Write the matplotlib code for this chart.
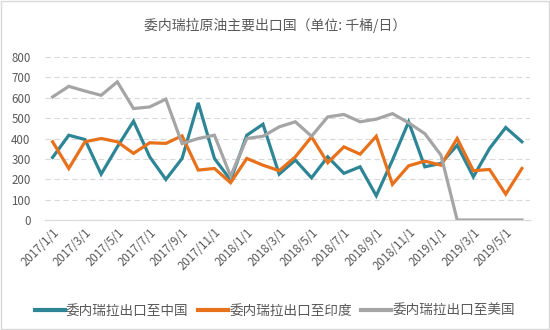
import numpy as np
import matplotlib
matplotlib.use('Agg')
import matplotlib.pyplot as plt
from matplotlib.patches import Rectangle

plt.rcParams['font.family'] = ['Noto Sans CJK SC', 'DejaVu Sans']

# monthly, 2017/1 .. 2019/6
months = ['%d/%d/1' % (2017 + i // 12, i % 12 + 1) for i in range(30)]

china = [307, 416, 395, 225, 359, 485, 310, 199, 302, 575,
         302, 196, 416, 470, 225, 294, 207, 310, 229, 261,
         119, 294, 482, 261, 278, 367, 212, 351, 454, 384]
india = [384, 253, 384, 400, 384, 327, 379, 376, 413, 245,
         253, 183, 302, 269, 242, 310, 408, 281, 359, 323,
         411, 175, 266, 289, 269, 400, 242, 248, 127, 253]
usa = [604, 656, 633, 612, 678, 547, 555, 593, 375, 400,
       416, 215, 400, 411, 457, 482, 411, 506, 518, 482,
       495, 522, 477, 424, 318, 0, 0, 0, 0, 0]

names = ['委内瑞拉出口至中国', '委内瑞拉出口至印度', '委内瑞拉出口至美国']
colors = ['#2e8595', '#e8711c', '#a5a5a5']

fig = plt.figure(figsize=(5.5, 3.3), dpi=100)
ax = fig.add_axes([44.5 / 550, 110 / 330, 485.5 / 550, 163 / 330])

x = np.arange(len(months))
for vals, name, c in zip([china, india, usa], names, colors):
    ax.plot(x, vals, color=c, lw=2.3, label=name, solid_joinstyle='miter')

ax.set_xlim(-0.5, len(months) - 0.5)
ax.set_ylim(0, 800)
ax.set_yticks(range(0, 801, 100))
ax.set_xticks(x[::2])
ax.set_xticklabels(months[::2], rotation=45, ha='right', rotation_mode='anchor')
ax.tick_params(axis='both', length=0, colors='#595959', labelsize=8.3)
ax.tick_params(axis='x', pad=4)
ax.tick_params(axis='y', pad=10)
ax.yaxis.grid(True, color='#d9d9d9', ls=(0, (5, 3)), lw=0.8)
ax.set_axisbelow(True)
for s in ['top', 'right', 'left']:
    ax.spines[s].set_visible(False)
ax.spines['bottom'].set_color('#d9d9d9')

fig.suptitle('委内瑞拉原油主要出口国（单位: 千桶/日）', y=1 - 25 / 330, va='center',
             fontsize=10, color='#595959')

leg = fig.legend(loc='center', bbox_to_anchor=(0.5, 1 - 311 / 330), ncol=3, frameon=False,
                 fontsize=9.8, handlelength=2.2, handletextpad=0.1, columnspacing=0.7,
                 labelcolor='#595959')
for h in leg.get_lines():
    h.set_linewidth(3)

fig.patches.append(Rectangle((0.002, 0.003), 0.996, 0.994, transform=fig.transFigure,
                             fill=False, edgecolor='#d9d9d9', lw=1))

fig.savefig('out.png', dpi=100)
